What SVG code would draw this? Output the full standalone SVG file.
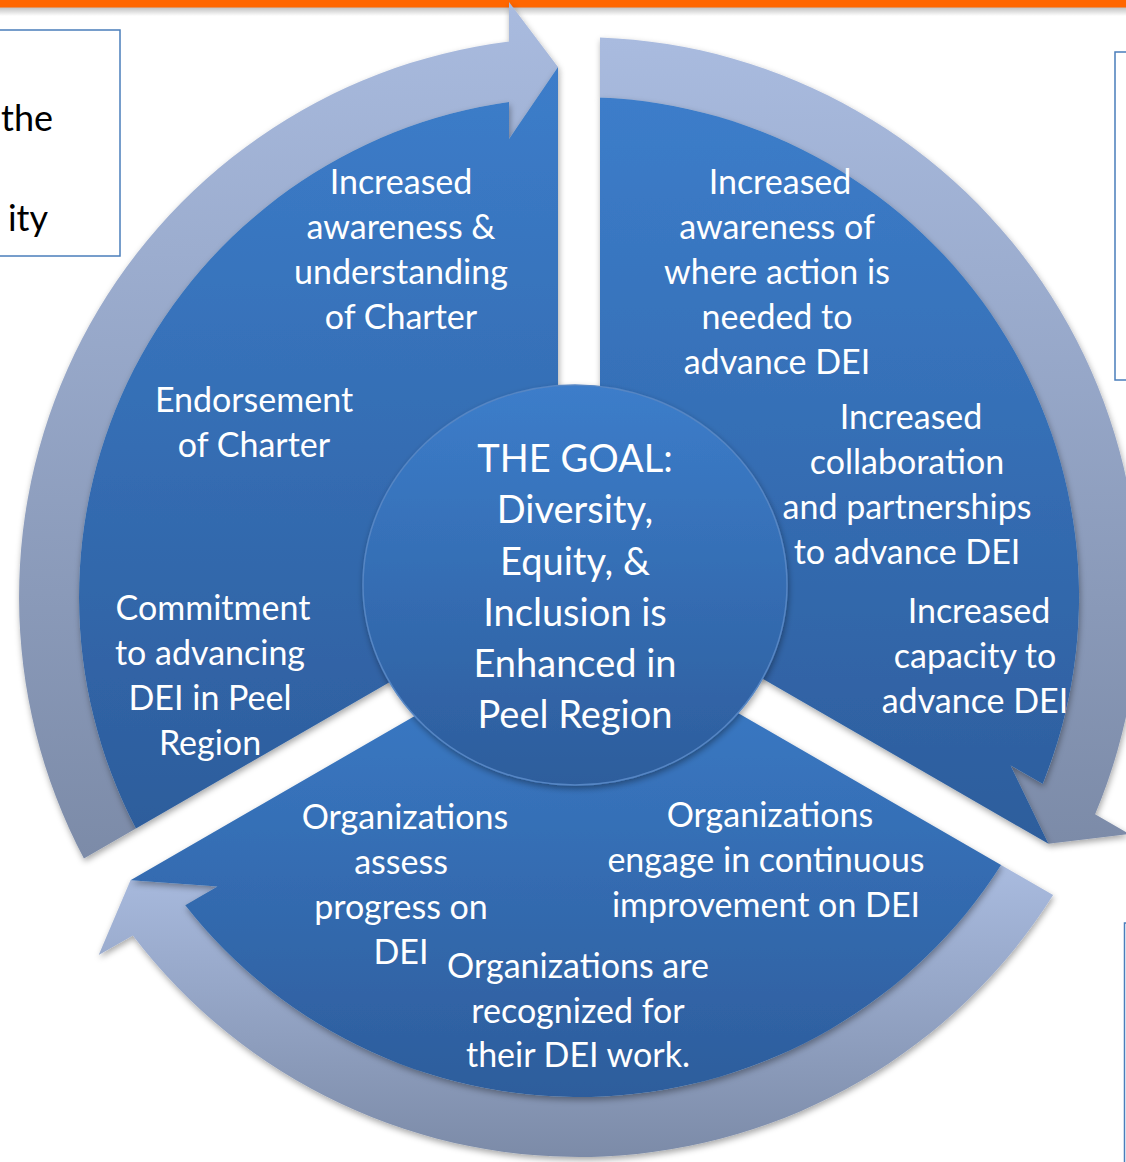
<svg xmlns="http://www.w3.org/2000/svg" width="1126" height="1162" viewBox="0 0 1126 1162">
  <defs>
    <linearGradient id="pieG" x1="0" y1="0" x2="0" y2="1">
      <stop offset="0" stop-color="#3C7DCA"/>
      <stop offset="1" stop-color="#2D5D9C"/>
    </linearGradient>
    <linearGradient id="arrG" x1="0" y1="0" x2="0" y2="1">
      <stop offset="0" stop-color="#A9BBDF"/>
      <stop offset="1" stop-color="#7C8BA8"/>
    </linearGradient>
    <linearGradient id="barSh" x1="0" y1="0" x2="0" y2="1">
      <stop offset="0" stop-color="#888" stop-opacity="0.55"/>
      <stop offset="1" stop-color="#888" stop-opacity="0"/>
    </linearGradient>
    <filter id="sh" x="-10%" y="-10%" width="120%" height="125%">
      <feDropShadow dx="1" dy="3" stdDeviation="3" flood-color="#000" flood-opacity="0.35"/>
    </filter>
    <style>
      .seg { fill: url(#pieG); filter: url(#sh); }
      .arr { fill: url(#arrG); filter: url(#sh); }
      .goal { fill: url(#pieG); stroke: #5686C4; stroke-width: 1.5; filter: url(#sh); }
      .lbl { font-family: Lato, "Open Sans", sans-serif; font-size: 34px; fill: #FFFFFF; text-anchor: middle; }
      .big { font-family: Lato, "Open Sans", sans-serif; font-size: 38px; fill: #FFFFFF; text-anchor: middle; }
      .box { fill: #FFFFFF; stroke: #4A7EBB; stroke-width: 1.5; }
      .btxt { font-family: Lato, "Open Sans", sans-serif; font-size: 36px; fill: #000000; text-anchor: end; }
    </style>
  </defs>

  <rect x="0" y="0" width="1126" height="1162" fill="#FFFFFF"/>

  <!-- page frame elements -->
  <rect x="0" y="7" width="1126" height="9" fill="url(#barSh)"/>
  <rect x="0" y="0" width="1126" height="7.5" fill="#FF6600"/>

  <g id="box-left">
    <rect class="box" x="-5" y="30" width="125" height="226"/>
    <text class="btxt" x="53" y="131">the</text>
    <text class="btxt" x="48" y="231">ity</text>
  </g>
  <g id="box-right">
    <rect class="box" x="1115" y="52" width="30" height="328"/>
  </g>
  <g id="box-bottom-right">
    <rect class="box" x="1124.5" y="923" width="30" height="260"/>
  </g>

  <!-- connectors: circular arrows -->
  <g id="connectors">
    <path class="arr" d="M 83.9 858.6 A 560 560 0 0 1 509 41.4 L 509 2 L 558 67 L 509 139 L 509 101.9 A 500 500 0 0 0 135.9 828.6 Z"/>
    <path class="arr" d="M 600 37.4 A 560 560 0 0 1 1095.1 814.2 L 1129.3 833.9 L 1048.5 843.8 L 1010.6 765.4 L 1042.8 783.9 A 500 500 0 0 0 600 97.5 Z"/>
    <path class="arr" d="M 1053.1 895 A 560 560 0 0 1 132.9 935.4 L 98.7 955.1 L 130.5 880.2 L 217.4 886.6 L 185.2 905.2 A 500 500 0 0 0 1001.1 864.9 Z"/>
  </g>

  <!-- segment: left -->
  <g id="segment-left">
    <path class="seg" d="M 558 584.9 L 558 67 L 509 139 L 509 101.9 A 500 500 0 0 0 135.9 828.6 Z"/>
    <text class="lbl" x="401" y="194">Increased</text>
    <text class="lbl" x="401" y="239">awareness &amp;</text>
    <text class="lbl" x="401" y="284">understanding</text>
    <text class="lbl" x="401" y="329">of Charter</text>
    <text class="lbl" x="254" y="412">Endorsement</text>
    <text class="lbl" x="254" y="457">of Charter</text>
    <text class="lbl" x="213" y="620">Commitment</text>
    <text class="lbl" x="210" y="665">to advancing</text>
    <text class="lbl" x="210" y="710">DEI in Peel</text>
    <text class="lbl" x="210" y="755">Region</text>
  </g>

  <!-- segment: right -->
  <g id="segment-right">
    <path class="seg" d="M 600 584.9 L 600 97.4 A 500 500 0 0 1 1042.8 783.9 L 1010.6 765.4 L 1048.5 843.8 Z"/>
    <text class="lbl" x="780" y="194">Increased</text>
    <text class="lbl" x="777" y="239">awareness of</text>
    <text class="lbl" x="777" y="284">where action is</text>
    <text class="lbl" x="777" y="329">needed to</text>
    <text class="lbl" x="777" y="374">advance DEI</text>
    <text class="lbl" x="911" y="429">Increased</text>
    <text class="lbl" x="907" y="474">collaboration</text>
    <text class="lbl" x="907" y="519">and partnerships</text>
    <text class="lbl" x="907" y="564">to advance DEI</text>
    <text class="lbl" x="979" y="623">Increased</text>
    <text class="lbl" x="975" y="668">capacity to</text>
    <text class="lbl" x="975" y="713">advance DEI</text>
  </g>

  <!-- segment: bottom -->
  <g id="segment-bottom">
    <path class="seg" d="M 579 621.2 L 1001.1 865 A 500 500 0 0 1 185.2 905.2 L 217.4 886.6 L 130.5 880.2 Z"/>
    <text class="lbl" x="405" y="829">Organizations</text>
    <text class="lbl" x="401" y="874">assess</text>
    <text class="lbl" x="401" y="919">progress on</text>
    <text class="lbl" x="401" y="964">DEI</text>
    <text class="lbl" x="770" y="827">Organizations</text>
    <text class="lbl" x="766" y="872">engage in continuous</text>
    <text class="lbl" x="766" y="917">improvement on DEI</text>
    <text class="lbl" x="578" y="978">Organizations are</text>
    <text class="lbl" x="578" y="1023">recognized for</text>
    <text class="lbl" x="578" y="1067">their DEI work.</text>
  </g>

  <!-- centre: the goal -->
  <g id="goal">
    <ellipse class="goal" cx="575" cy="585" rx="212" ry="200"/>
    <text class="big" x="575" y="472">THE GOAL:</text>
    <text class="big" x="575" y="523">Diversity,</text>
    <text class="big" x="575" y="575">Equity, &amp;</text>
    <text class="big" x="575" y="626">Inclusion is</text>
    <text class="big" x="575" y="677">Enhanced in</text>
    <text class="big" x="575" y="728">Peel Region</text>
  </g>
</svg>
